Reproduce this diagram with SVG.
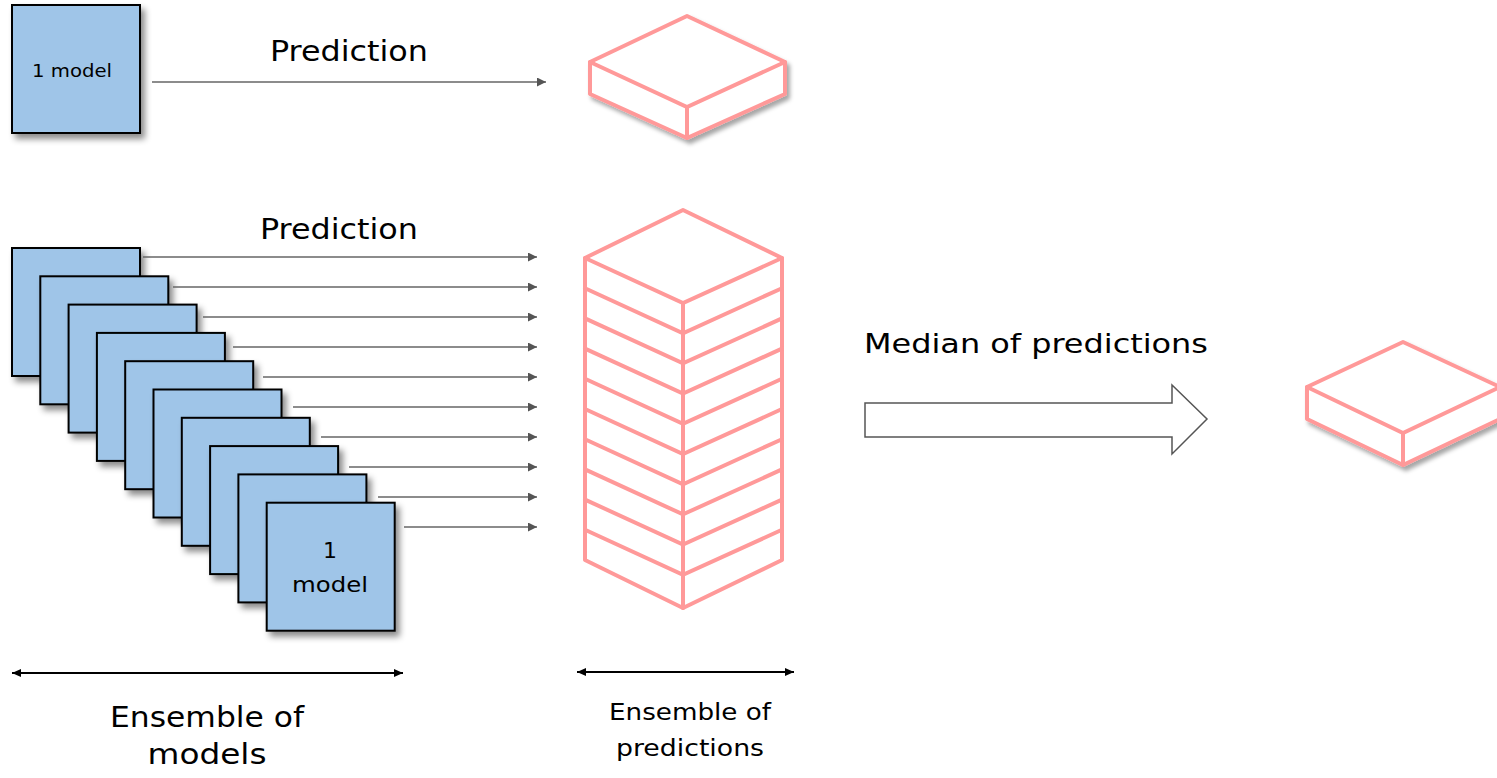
<svg xmlns="http://www.w3.org/2000/svg" width="1497" height="778" viewBox="0 0 1497 778">
<defs>
<style>
.model{fill:#9FC5E8;stroke:#000;stroke-width:2;filter:url(#sh)}
.pink{fill:#fff;stroke:#FF9999;stroke-width:4;stroke-linejoin:round}
.pinkl{fill:none;stroke:#FF9999;stroke-width:4;stroke-linecap:round}
.arr{stroke:#666;stroke-width:1.5;fill:none;marker-end:url(#ah)}
.dbl{stroke:#000;stroke-width:2;fill:none;marker-start:url(#bh);marker-end:url(#bh)}
text{font-family:"DejaVu Sans","Liberation Sans",sans-serif;fill:#000}
</style>
<filter id="sh" x="-20%" y="-20%" width="150%" height="150%">
<feDropShadow dx="4" dy="5" stdDeviation="3" flood-color="#000" flood-opacity="0.45"/>
</filter>
<filter id="sh2" x="-20%" y="-20%" width="150%" height="150%">
<feDropShadow dx="3" dy="4" stdDeviation="2" flood-color="#000" flood-opacity="0.35"/>
</filter>
<marker id="ah" markerUnits="userSpaceOnUse" markerWidth="10" markerHeight="10" refX="9" refY="4.5" orient="auto">
<path d="M0,0 L9,4.5 L0,9 z" fill="#555"/>
</marker>
<marker id="bh" markerUnits="userSpaceOnUse" markerWidth="10" markerHeight="10" refX="9" refY="4" orient="auto-start-reverse">
<path d="M0,0 L9,4 L0,8 z" fill="#000"/>
</marker>
</defs>
<rect width="1497" height="778" fill="#fff"/>

<g id="single-model">
<rect class="model" x="12" y="5" width="128" height="128"/>
<text x="72" y="77" font-size="18" text-anchor="middle" textLength="80" lengthAdjust="spacingAndGlyphs">1 model</text>
</g>

<g id="single-prediction" filter="url(#sh2)">
<polygon class="pink" points="687,16 785,62 785,94 687,138 590,94 590,62"/>
<polyline class="pinkl" points="590,62 687,107 785,62"/>
<line class="pinkl" x1="687" y1="107" x2="687" y2="138"/>
</g>

<g id="ensemble-models">
<rect class="model" x="12" y="248" width="128" height="128"/>
<rect class="model" x="40.3" y="276.3" width="128" height="128"/>
<rect class="model" x="68.6" y="304.6" width="128" height="128"/>
<rect class="model" x="96.9" y="332.9" width="128" height="128"/>
<rect class="model" x="125.2" y="361.2" width="128" height="128"/>
<rect class="model" x="153.5" y="389.5" width="128" height="128"/>
<rect class="model" x="181.8" y="417.8" width="128" height="128"/>
<rect class="model" x="210.1" y="446.1" width="128" height="128"/>
<rect class="model" x="238.4" y="474.4" width="128" height="128"/>
<rect class="model" x="266.7" y="502.7" width="128" height="128"/>
<text x="330" y="558" font-size="22" text-anchor="middle">1</text>
<text x="330" y="592" font-size="22" text-anchor="middle" textLength="76" lengthAdjust="spacingAndGlyphs">model</text>
</g>

<g id="ensemble-predictions">
<polygon class="pink" points="683,210 782,258 782,560 683,608 585,560 585,258"/>
<polyline class="pinkl" points="585,258 683,303 782,258"/>
<line class="pinkl" x1="683" y1="303" x2="683" y2="608"/>
<polyline class="pinkl" points="585,288.2 683,333.2 782,288.2"/>
<polyline class="pinkl" points="585,318.4 683,363.4 782,318.4"/>
<polyline class="pinkl" points="585,348.6 683,393.6 782,348.6"/>
<polyline class="pinkl" points="585,378.8 683,423.8 782,378.8"/>
<polyline class="pinkl" points="585,409 683,454 782,409"/>
<polyline class="pinkl" points="585,439.2 683,484.2 782,439.2"/>
<polyline class="pinkl" points="585,469.4 683,514.4 782,469.4"/>
<polyline class="pinkl" points="585,499.6 683,544.6 782,499.6"/>
<polyline class="pinkl" points="585,529.8 683,574.8 782,529.8"/>
</g>

<g id="median-prediction" filter="url(#sh2)">
<polygon class="pink" points="1403,342 1500,387 1500,419 1403,465 1307,419 1307,387"/>
<polyline class="pinkl" points="1307,387 1403,433 1500,387"/>
<line class="pinkl" x1="1403" y1="433" x2="1403" y2="465"/>
</g>

<g id="connectors">
<line class="arr" x1="152" y1="82" x2="546" y2="82"/>
<line class="arr" x1="143" y1="257" x2="537" y2="257"/>
<line class="arr" x1="173" y1="287" x2="537" y2="287"/>
<line class="arr" x1="203" y1="317" x2="537" y2="317"/>
<line class="arr" x1="233" y1="347" x2="537" y2="347"/>
<line class="arr" x1="263" y1="377" x2="537" y2="377"/>
<line class="arr" x1="293" y1="407" x2="537" y2="407"/>
<line class="arr" x1="321" y1="437" x2="537" y2="437"/>
<line class="arr" x1="349" y1="467" x2="537" y2="467"/>
<line class="arr" x1="378" y1="497" x2="537" y2="497"/>
<line class="arr" x1="404" y1="527" x2="537" y2="527"/>
<polygon points="865,403 1172,403 1172,385 1207,419 1172,454 1172,437 865,437" fill="#fff" stroke="#555" stroke-width="1.5"/>
<line class="dbl" x1="12" y1="673" x2="403" y2="673"/>
<line class="dbl" x1="577" y1="672" x2="794" y2="672"/>
</g>

<g id="labels">
<text x="349" y="61" font-size="29" text-anchor="middle" textLength="158" lengthAdjust="spacingAndGlyphs">Prediction</text>
<text x="339" y="239" font-size="29" text-anchor="middle" textLength="158" lengthAdjust="spacingAndGlyphs">Prediction</text>
<text x="1036" y="353" font-size="27" text-anchor="middle" textLength="344" lengthAdjust="spacingAndGlyphs">Median of predictions</text>
<text x="207" y="727" font-size="29" text-anchor="middle" textLength="194" lengthAdjust="spacingAndGlyphs">Ensemble of</text>
<text x="207" y="764" font-size="29" text-anchor="middle" textLength="119" lengthAdjust="spacingAndGlyphs">models</text>
<text x="690" y="720" font-size="23" text-anchor="middle" textLength="162" lengthAdjust="spacingAndGlyphs">Ensemble of</text>
<text x="690" y="756" font-size="23" text-anchor="middle" textLength="148" lengthAdjust="spacingAndGlyphs">predictions</text>
</g>
</svg>
